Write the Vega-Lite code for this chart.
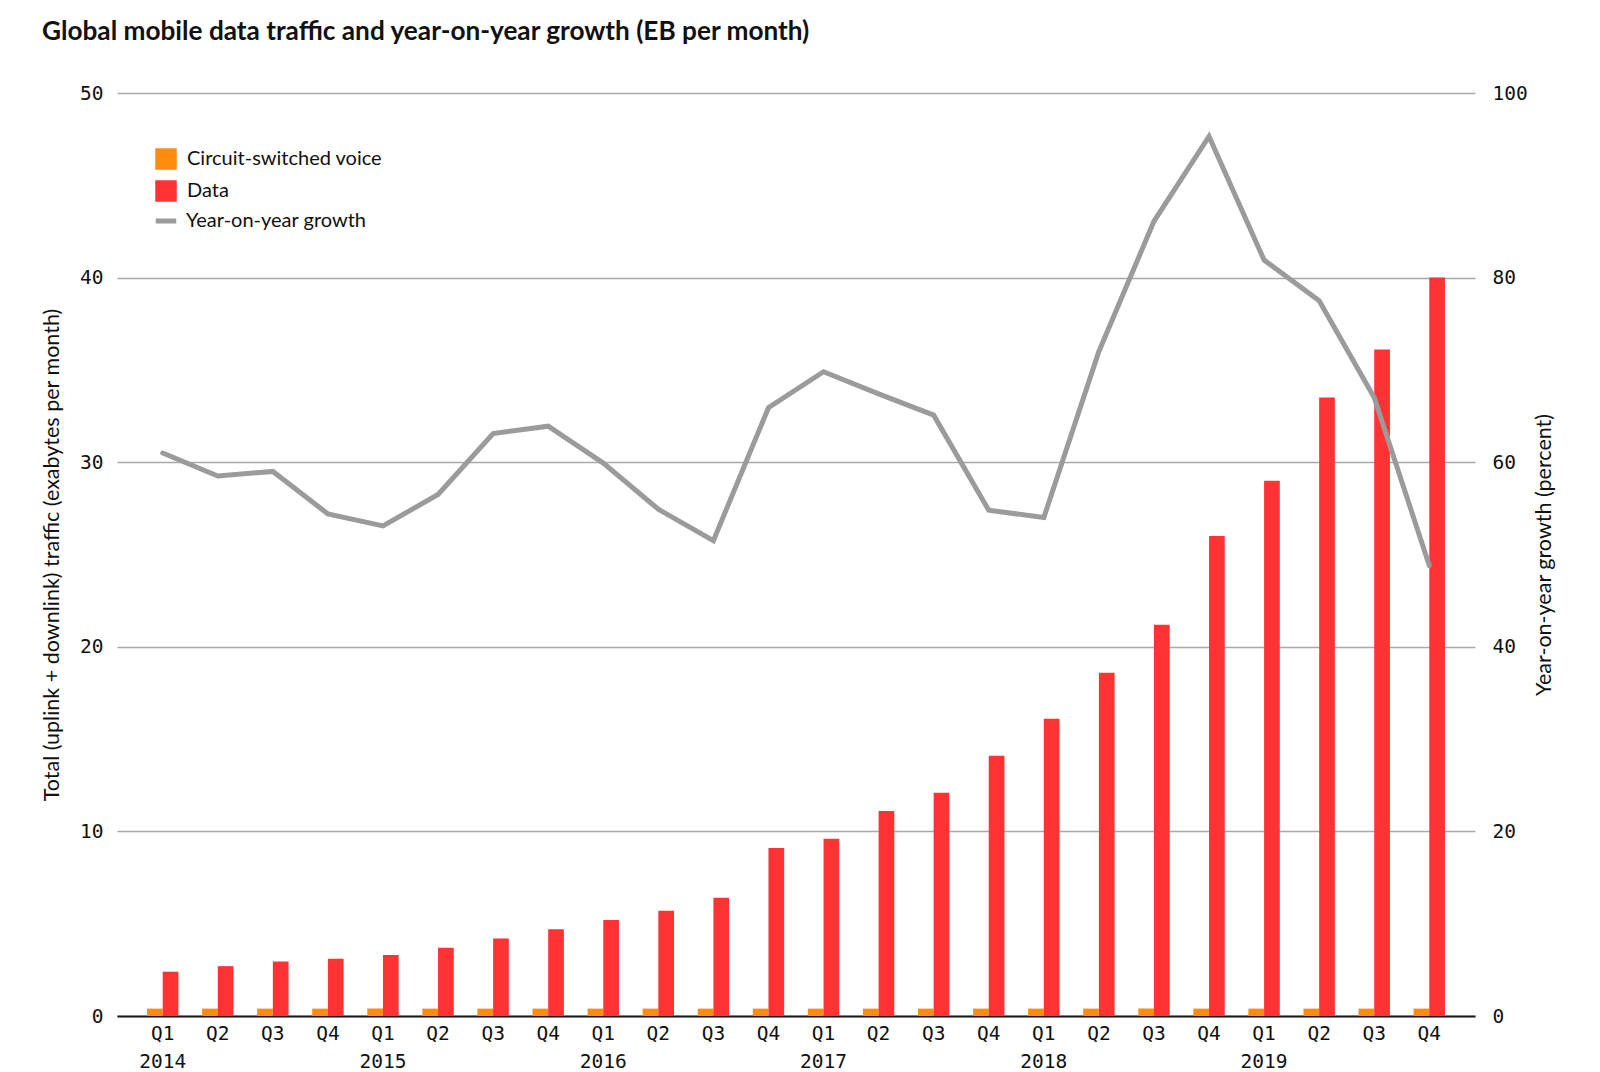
{
  "$schema": "https://vega.github.io/schema/vega-lite/v6.json",
  "autosize": {"type": "none"},
  "width": 1358,
  "height": 923,
  "padding": {"left": 117, "top": 93, "right": 125, "bottom": 56},
  "background": "white",
  "title": {
    "text": "Global mobile data traffic and year-on-year growth (EB per month)",
    "anchor": "start",
    "frame": "group",
    "dx": -75,
    "offset": 38,
    "font": "Lato",
    "fontSize": 26.2,
    "fontWeight": "bold",
    "color": "#111111"
  },
  "config": {
    "view": {"stroke": null},
    "axis": {"labelFont": "DejaVu Sans Mono", "labelFontSize": 19.5, "labelColor": "#111111", "titleFont": "Lato", "titleFontSize": 21.5, "titleFontWeight": "normal", "titleColor": "#111111"},
    "legend": {"labelFont": "Lato", "labelFontSize": 20, "labelColor": "#111111", "labelLimit": 0}
  },
  "data": {
    "values": [
      {"period": "2014 Q1", "Circuit-switched voice": 0.4, "Data": 2.4, "growth": 61.0},
      {"period": "2014 Q2", "Circuit-switched voice": 0.4, "Data": 2.7, "growth": 58.5},
      {"period": "2014 Q3", "Circuit-switched voice": 0.4, "Data": 2.95, "growth": 59.0},
      {"period": "2014 Q4", "Circuit-switched voice": 0.4, "Data": 3.1, "growth": 54.4},
      {"period": "2015 Q1", "Circuit-switched voice": 0.4, "Data": 3.3, "growth": 53.1},
      {"period": "2015 Q2", "Circuit-switched voice": 0.4, "Data": 3.7, "growth": 56.5},
      {"period": "2015 Q3", "Circuit-switched voice": 0.4, "Data": 4.2, "growth": 63.1},
      {"period": "2015 Q4", "Circuit-switched voice": 0.4, "Data": 4.7, "growth": 63.9},
      {"period": "2016 Q1", "Circuit-switched voice": 0.4, "Data": 5.2, "growth": 59.9},
      {"period": "2016 Q2", "Circuit-switched voice": 0.4, "Data": 5.7, "growth": 54.9},
      {"period": "2016 Q3", "Circuit-switched voice": 0.4, "Data": 6.4, "growth": 51.5},
      {"period": "2016 Q4", "Circuit-switched voice": 0.4, "Data": 9.1, "growth": 65.9},
      {"period": "2017 Q1", "Circuit-switched voice": 0.4, "Data": 9.6, "growth": 69.8},
      {"period": "2017 Q2", "Circuit-switched voice": 0.4, "Data": 11.1, "growth": 67.4},
      {"period": "2017 Q3", "Circuit-switched voice": 0.4, "Data": 12.1, "growth": 65.1},
      {"period": "2017 Q4", "Circuit-switched voice": 0.4, "Data": 14.1, "growth": 54.8},
      {"period": "2018 Q1", "Circuit-switched voice": 0.4, "Data": 16.1, "growth": 54.0},
      {"period": "2018 Q2", "Circuit-switched voice": 0.4, "Data": 18.6, "growth": 72.0},
      {"period": "2018 Q3", "Circuit-switched voice": 0.4, "Data": 21.2, "growth": 86.1},
      {"period": "2018 Q4", "Circuit-switched voice": 0.4, "Data": 26.0, "growth": 95.3},
      {"period": "2019 Q1", "Circuit-switched voice": 0.4, "Data": 29.0, "growth": 81.9},
      {"period": "2019 Q2", "Circuit-switched voice": 0.4, "Data": 33.5, "growth": 77.5},
      {"period": "2019 Q3", "Circuit-switched voice": 0.4, "Data": 36.1, "growth": 67.0},
      {"period": "2019 Q4", "Circuit-switched voice": 0.4, "Data": 40.0, "growth": 48.8}
    ]
  },
  "encoding": {
    "x": {
      "field": "period",
      "type": "nominal",
      "sort": null,
      "scale": {"type": "band", "paddingInner": 0.43, "paddingOuter": 0.545},
      "axis": {
        "title": null,
        "labelAngle": 0,
        "ticks": false,
        "grid": false,
        "domain": true,
        "domainColor": "#1a1a1a",
        "domainWidth": 2,
        "labelPadding": 8,
        "labelLineHeight": 28,
        "labelExpr": "substring(datum.value,5) == 'Q1' ? [substring(datum.value,5), substring(datum.value,0,4)] : substring(datum.value,5)"
      }
    }
  },
  "layer": [
    {
      "transform": [{"fold": ["Circuit-switched voice", "Data"], "as": ["series", "traffic"]}],
      "mark": {"type": "bar"},
      "encoding": {
        "xOffset": {"field": "series", "type": "nominal", "sort": ["Circuit-switched voice", "Data"], "scale": {"paddingInner": 0, "paddingOuter": 0}},
        "y": {
          "field": "traffic",
          "type": "quantitative",
          "scale": {"domain": [0, 50]},
          "axis": {
            "title": "Total (uplink + downlink) traffic (exabytes per month)",
            "orient": "left",
            "values": [0, 10, 20, 30, 40, 50],
            "domain": false,
            "ticks": false,
            "grid": true,
            "gridColor": "#a9a9a9",
            "gridWidth": 1.3,
            "labelPadding": 14,
            "titlePadding": 16
          }
        },
        "color": {
          "field": "series",
          "type": "nominal",
          "scale": {"domain": ["Circuit-switched voice", "Data"], "range": ["#ff8c0f", "#ff3333"]},
          "legend": {
            "title": null,
            "orient": "none",
            "legendX": 38,
            "legendY": 55,
            "symbolType": "square",
            "symbolSize": 462,
            "symbolStrokeWidth": 0,
            "labelOffset": 10,
            "rowPadding": 10
          }
        }
      }
    },
    {
      "mark": {"type": "line", "strokeWidth": 5, "strokeCap": "round"},
      "encoding": {
        "y": {
          "field": "growth",
          "type": "quantitative",
          "scale": {"domain": [0, 100]},
          "axis": {
            "title": "Year-on-year growth (percent)",
            "orient": "right",
            "values": [0, 20, 40, 60, 80, 100],
            "domain": false,
            "ticks": false,
            "grid": false,
            "labelPadding": 17,
            "titleAngle": 270,
            "titlePadding": 28
          }
        },
        "stroke": {
          "datum": "Year-on-year growth",
          "type": "nominal",
          "scale": {"domain": ["Year-on-year growth"], "range": ["#9b9b9b"]},
          "legend": {
            "title": null,
            "orient": "none",
            "legendX": 36,
            "legendY": 115,
            "symbolType": "stroke",
            "symbolSize": 420,
            "symbolStrokeWidth": 5,
            "labelOffset": 7
          }
        }
      }
    }
  ],
  "resolve": {"scale": {"y": "independent"}}
}
